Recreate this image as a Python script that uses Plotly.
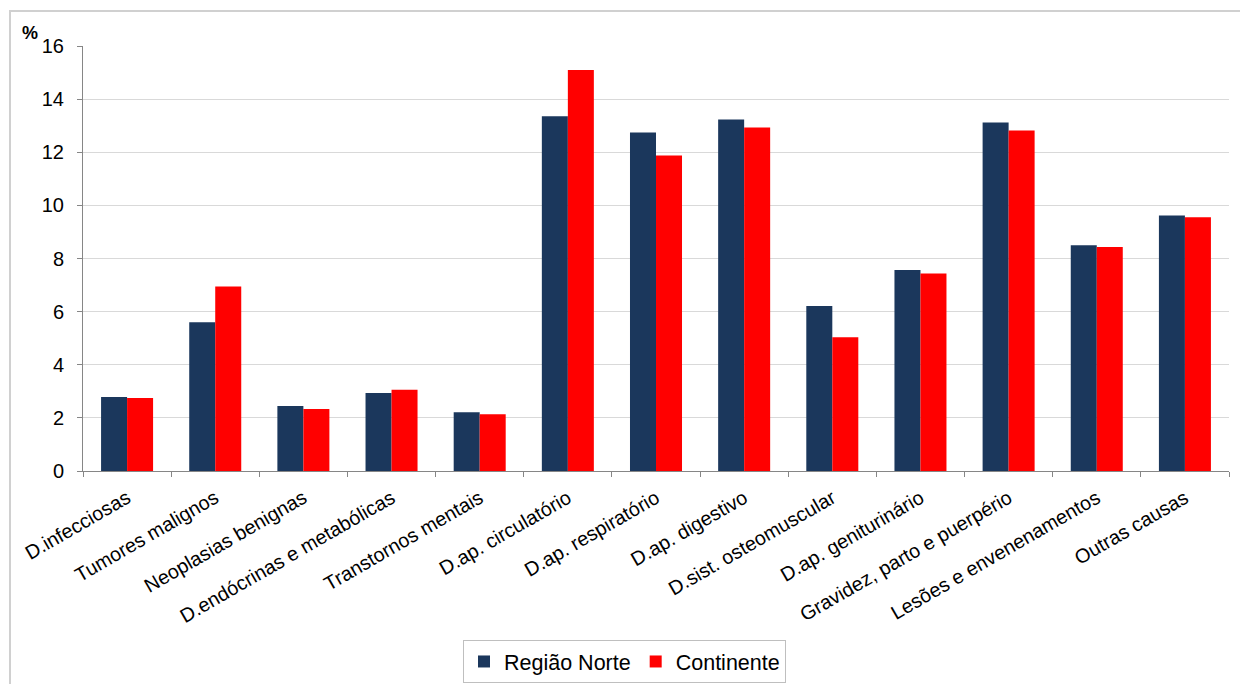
import plotly.graph_objects as go

categories = [
    "D.infecciosas", "Tumores malignos", "Neoplasias benignas",
    "D.endócrinas e metabólicas", "Transtornos mentais", "D.ap. circulatório",
    "D.ap. respiratório", "D.ap. digestivo", "D.sist. osteomuscular",
    "D.ap. geniturinário", "Gravidez, parto e puerpério",
    "Lesões e envenenamentos", "Outras causas",
]
regiao_norte = [2.79, 5.60, 2.45, 2.94, 2.21, 13.36, 12.74, 13.23, 6.21, 7.57, 13.12, 8.50, 9.62]
continente = [2.75, 6.95, 2.33, 3.06, 2.14, 15.10, 11.88, 12.93, 5.04, 7.44, 12.82, 8.43, 9.55]
y_ticks = [0, 2, 4, 6, 8, 10, 12, 14, 16]

FONT = "Liberation Sans, Arial, sans-serif"

fig = go.Figure()
fig.add_trace(go.Bar(name="Região Norte", x=categories, y=regiao_norte,
                     marker=dict(color="#1B375C", line=dict(width=0))))
fig.add_trace(go.Bar(name="Continente", x=categories, y=continente,
                     marker=dict(color="#FF0000", line=dict(width=0))))

L, R, T, B = 83, 11, 46, 213
W, H = 1240, 684
pw, ph = W - L - R, H - T - B

fig.update_layout(
    width=W, height=H,
    margin=dict(l=L, r=R, t=T, b=B, pad=0, autoexpand=False),
    paper_bgcolor="white", plot_bgcolor="white",
    barmode="group", bargap=0.41, bargroupgap=0,
    font=dict(family=FONT, size=19, color="black"),
    showlegend=True,
    legend=dict(
        orientation="h", x=(463 - L) / pw, xanchor="left",
        y=(471 - 640) / ph, yanchor="top",
        bordercolor="#BFBFBF", borderwidth=1, bgcolor="white",
        font=dict(family=FONT, size=21.5, color="black"),
        itemwidth=30, tracegroupgap=0,
    ),
    xaxis=dict(
        type="category", tickangle=-30, tickson="boundaries",
        ticks="outside", ticklen=5, tickcolor="#868686",
        showline=True, linecolor="#868686", linewidth=1, automargin=False,
        ticklabelstandoff=7,
        showgrid=False, tickfont=dict(family=FONT, size=19.8, color="black"),
    ),
    yaxis=dict(
        range=[0, 16], tickvals=y_ticks, ticks="outside", ticklen=5,
        tickcolor="#868686", showline=True, linecolor="#868686", linewidth=1,
        showgrid=True, gridcolor="#D9D9D9", gridwidth=1, zeroline=False,
        automargin=False, ticklabelstandoff=9,
        tickfont=dict(family=FONT, size=20, color="black"),
    ),
    annotations=[dict(
        text="<b>%</b>", xref="paper", yref="paper",
        x=(20 - L) / pw, y=1 + (T - 33) / ph, xanchor="left", yanchor="middle",
        showarrow=False, font=dict(family=FONT, size=18, color="black"),
    )],
    shapes=[dict(
        type="rect", xref="paper", yref="paper",
        x0=(10 - L) / pw, x1=(1260 - L) / pw,
        y0=-(B + 20) / ph, y1=1 + (T - 11) / ph,
        line=dict(color="#D0D0D0", width=2), fillcolor="rgba(0,0,0,0)",
        layer="below",
    )],
)

fig.write_html("out.html", config={"displayModeBar": False},
               post_script="document.body.style.margin='0';")
